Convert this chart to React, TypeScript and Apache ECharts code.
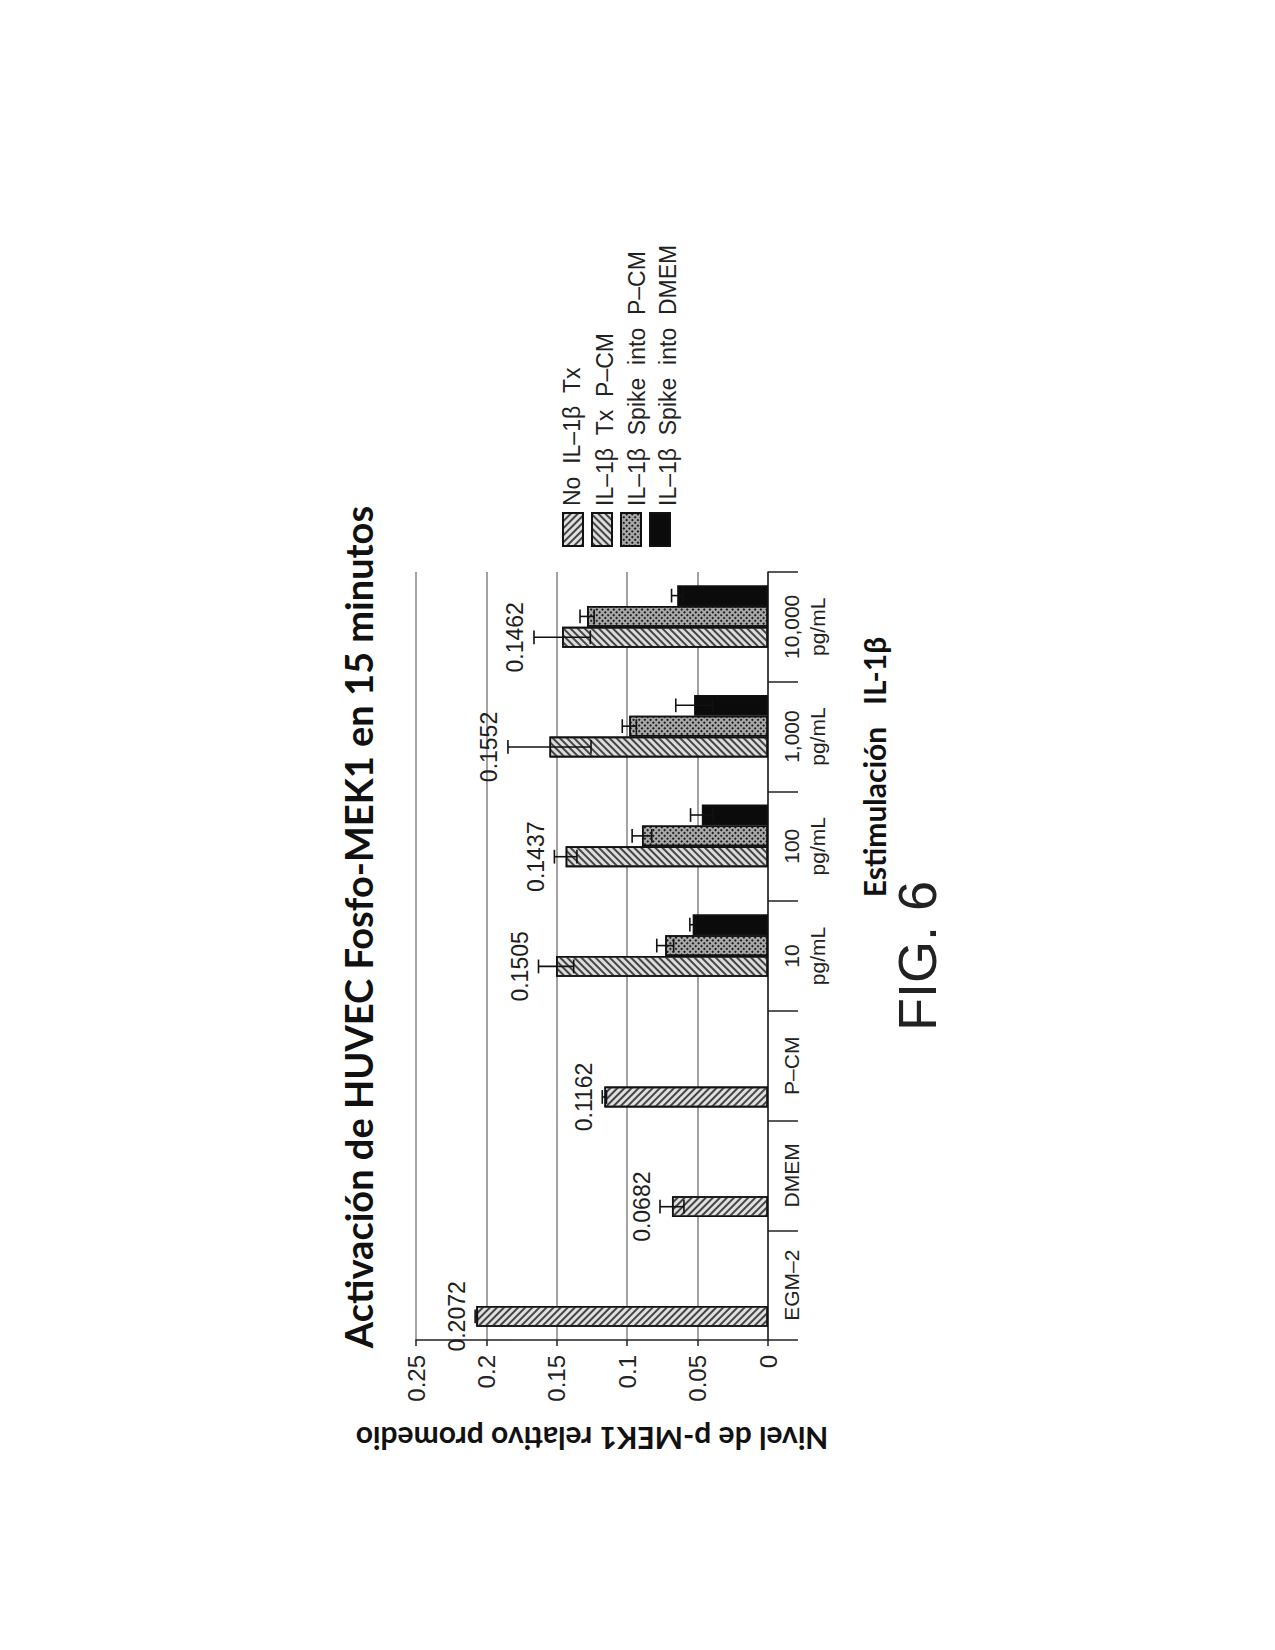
import React, { useEffect, useRef } from "react";
import * as echarts from "echarts";

// ---------- data ----------
const categories = ["EGM–2", "DMEM", "P–CM", "10\npg/mL", "100\npg/mL", "1,000\npg/mL", "10,000\npg/mL"];
const seriesNames = ["No  IL–1β  Tx", "IL–1β  Tx  P–CM", "IL–1β  Spike  into  P–CM", "IL–1β  Spike  into  DMEM"];
const noTx = [0.2072, 0.0682, 0.1162, null, null, null, null];
const noTxErr = [0.0008, 0.0085, 0.0015, null, null, null, null];
const txPcm = [null, null, null, 0.1505, 0.1437, 0.1552, 0.1462];
const txPcmErr = [null, null, null, 0.0125, 0.008, 0.0295, 0.02];
const spikePcm = [null, null, null, 0.073, 0.0895, 0.0985, 0.1285];
const spikePcmErr = [null, null, null, 0.006, 0.007, 0.005, 0.005];
const spikeDmem = [null, null, null, 0.0535, 0.047, 0.0525, 0.0645];
const spikeDmemErr = [null, null, null, 0.002, 0.008, 0.013, 0.004];
const valueTickLabels = ["0", "0.05", "0.1", "0.15", "0.2", "0.25"];

const titleText = "Activación de HUVEC Fosfo-MEK1 en 15 minutos";
const valueAxisName = "Nivel de p-MEK1 relativo promedio";
const categoryAxisName = "Estimulación   IL-1β";
const figureText = "FIG. 6";

const BAR_FRAC = 0.19;
const NUM_FONT = "'Liberation Sans', Arial, sans-serif";
const NARROW_FONT = "'Liberation Sans Narrow', 'Liberation Sans', Arial, sans-serif";
const BOLD_FONT = "Lato, 'Liberation Sans', sans-serif";

type Cfg = {
  name: string;
  values: (number | null)[];
  errs: (number | null)[];
  labelled: boolean;
  itemStyle: any;
};

// declaration order = slot order from top of each category band
const cfgs: Cfg[] = [
  {
    name: seriesNames[3],
    values: spikeDmem,
    errs: spikeDmemErr,
    labelled: false,
    itemStyle: { color: "#0b0b0b", borderColor: "#111", borderWidth: 1.6 },
  },
  {
    name: seriesNames[2],
    values: spikePcm,
    errs: spikePcmErr,
    labelled: false,
    itemStyle: {
      color: "#a9a9a9",
      borderColor: "#111",
      borderWidth: 1.6,
      decal: {
        symbol: "rect",
        symbolSize: 1,
        dashArrayX: [1.6, 1.6],
        dashArrayY: [1.6, 1.6],
        rotation: Math.PI / 4,
        color: "#1e1e1e",
      },
    },
  },
  {
    name: seriesNames[1],
    values: txPcm,
    errs: txPcmErr,
    labelled: true,
    itemStyle: {
      color: "#dcdcdc",
      borderColor: "#111",
      borderWidth: 1.6,
      decal: {
        symbol: "rect",
        symbolSize: 1,
        dashArrayX: [1, 0],
        dashArrayY: [1.4, 2.6],
        rotation: Math.PI / 4,
        color: "#444",
      },
    },
  },
  {
    name: seriesNames[0],
    values: noTx,
    errs: noTxErr,
    labelled: true,
    itemStyle: {
      color: "#e0e0e0",
      borderColor: "#111",
      borderWidth: 1.6,
      decal: {
        symbol: "rect",
        symbolSize: 1,
        dashArrayX: [1, 0],
        dashArrayY: [1.4, 2.6],
        rotation: -Math.PI / 4,
        color: "#444",
      },
    },
  },
];

function makeErrSeries(cfg: Cfg, slot: number) {
  const data: number[][] = [];
  cfg.values.forEach((v, i) => {
    if (v != null) data.push([v, i, cfg.errs[i] ?? 0]);
  });
  return {
    type: "custom",
    name: cfg.name + " err",
    encode: { x: 0, y: 1 },
    z: 5,
    silent: true,
    data,
    renderItem: (params: any, api: any) => {
      const v = api.value(0);
      const ci = api.value(1);
      const e = api.value(2);
      const band = api.size([0, 1])[1];
      const bw = band * BAR_FRAC;
      const c = api.coord([v, ci]);
      const yc = c[1] + (slot - 1.5) * bw;
      const xHi = api.coord([v + e, ci])[0];
      const xLo = api.coord([v - e, ci])[0];
      const cap = bw * 0.33;
      const ls = { stroke: "#111", lineWidth: 1.6 };
      const children: any[] = [
        { type: "line", shape: { x1: xLo, y1: yc, x2: xHi, y2: yc }, style: ls },
        { type: "line", shape: { x1: xHi, y1: yc - cap, x2: xHi, y2: yc + cap }, style: ls },
        { type: "line", shape: { x1: xLo, y1: yc - cap, x2: xLo, y2: yc + cap }, style: ls },
      ];
      if (cfg.labelled) {
        children.push({
          type: "text",
          x: xHi - 7,
          y: yc,
          rotation: Math.PI / 2,
          style: {
            text: v.toFixed(4),
            fontSize: 23,
            fontFamily: NUM_FONT,
            fill: "#1e1e1e",
            align: "center",
            verticalAlign: "bottom",
          },
        });
      }
      return { type: "group", children };
    },
  };
}

export default function App() {
  const ref = useRef<HTMLDivElement>(null);
  useEffect(() => {
    if (!ref.current) return;
    const chart = echarts.init(ref.current, undefined, { renderer: "svg" });
    const legendX = [572, 605, 637, 668];
    const option: any = {
      animation: false,
      backgroundColor: "#ffffff",
      grid: { left: 416, right: 507, top: 572, bottom: 310 },
      legend: {
        data: seriesNames,
        left: 562,
        top: 512,
        orient: "horizontal",
        itemWidth: 20,
        itemHeight: 33,
        itemGap: 7,
        padding: 0,
        icon: "rect",
        selectedMode: false,
        formatter: () => "",
        textStyle: { fontSize: 1 },
      },
      xAxis: {
        type: "value",
        inverse: true,
        min: 0,
        max: 0.25,
        interval: 0.05,
        axisLine: { show: true, lineStyle: { color: "#222", width: 1.5 } },
        axisTick: { show: true, length: 6, lineStyle: { color: "#222", width: 1.5 } },
        axisLabel: {
          rotate: 90,
          margin: 15,
          fontSize: 24,
          fontFamily: NUM_FONT,
          color: "#222",
          formatter: (v: number) => valueTickLabels[Math.round(v / 0.05)] ?? String(v),
        },
        splitLine: { show: true, lineStyle: { color: "#8c8c8c", width: 1.6 } },
        name: valueAxisName,
        nameLocation: "middle",
        nameGap: 84,
        nameRotate: 180,
        nameTextStyle: { fontSize: 30, fontWeight: "bold", fontFamily: BOLD_FONT, color: "#111" },
      },
      yAxis: {
        type: "category",
        data: categories,
        position: "right",
        axisLine: { show: true, lineStyle: { color: "#222", width: 1.5 } },
        axisTick: { show: true, interval: 0, length: 30, lineStyle: { color: "#222", width: 1.5 } },
        axisLabel: {
          interval: 0,
          rotate: 90,
          margin: 10,
          fontSize: 21,
          lineHeight: 26,
          fontFamily: NARROW_FONT,
          color: "#222",
        },
        splitLine: { show: false },
      },
      graphic: [
        {
          type: "text",
          x: 358,
          y: 927,
          rotation: Math.PI / 2,
          style: {
            text: titleText,
            fontSize: 38,
            fontWeight: "bold",
            fontFamily: BOLD_FONT,
            fill: "#111",
            align: "center",
            verticalAlign: "middle",
          },
        },
        {
          type: "text",
          x: 874,
          y: 767,
          rotation: Math.PI / 2,
          style: {
            text: categoryAxisName,
            fontSize: 30,
            fontWeight: "bold",
            fontFamily: BOLD_FONT,
            fill: "#111",
            align: "center",
            verticalAlign: "middle",
          },
        },
        {
          type: "text",
          x: 917,
          y: 956,
          rotation: Math.PI / 2,
          style: {
            text: figureText,
            fontSize: 54,
            fontFamily: NUM_FONT,
            fill: "#222",
            align: "center",
            verticalAlign: "middle",
          },
        },
        ...seriesNames.map((n, i) => ({
          type: "text",
          x: legendX[i],
          y: 506,
          rotation: Math.PI / 2,
          style: {
            text: n,
            fontSize: 23,
            fontFamily: NARROW_FONT,
            fill: "#222",
            align: "left",
            verticalAlign: "middle",
          },
        })),
      ],
      series: [
        ...cfgs.map((c) => ({
          type: "bar",
          name: c.name,
          data: c.values,
          barWidth: `${BAR_FRAC * 100}%`,
          barGap: "0%",
          itemStyle: c.itemStyle,
          z: 2,
        })),
        ...cfgs.map((c, i) => makeErrSeries(c, i)),
      ],
    };
    chart.setOption(option);
    return () => chart.dispose();
  }, []);
  return (
    <div
      ref={ref}
      style={{ position: "absolute", left: 0, top: 0, width: 1275, height: 1650, background: "#fff" }}
    />
  );
}
